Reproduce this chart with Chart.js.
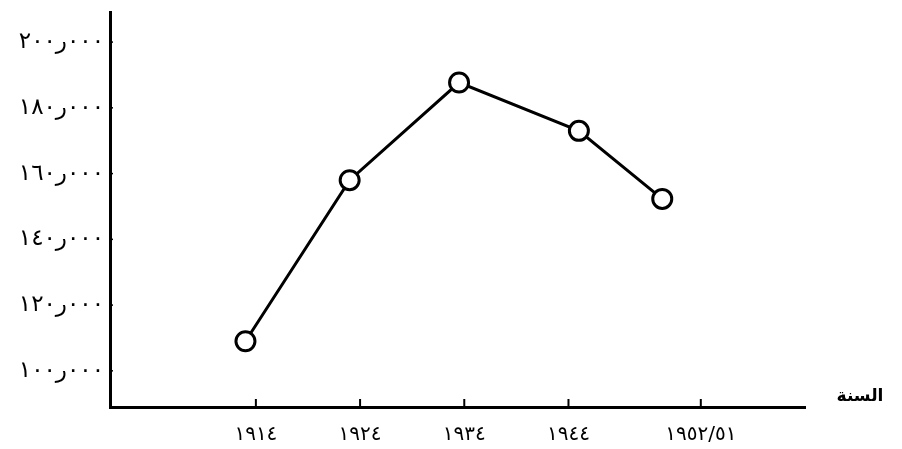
<!DOCTYPE html>
<html>
<head>
<meta charset="utf-8">
<script src="https://cdn.jsdelivr.net/npm/chart.js@4"></script>
<style>
  html, body { margin: 0; padding: 0; background: #fff; }
  #wrap { width: 902px; height: 449px; position: relative; }
</style>
</head>
<body>
<div id="wrap"><canvas id="c"></canvas></div>
<script>
// ---- data ----
const pointYears = [1913, 1923, 1933.5, 1945, 1953];
const populationValues = [109000, 158000, 187700, 173000, 152300];
const xTickPositions = [1914, 1924, 1934, 1944, 1956.7];
const xTickLabels = ['١٩١٤', '١٩٢٤', '١٩٣٤', '١٩٤٤', '١٩٥٢/٥١'];
const yTickValues = [100000, 120000, 140000, 160000, 180000, 200000];
const xAxisTitle = 'السنة';

const AR_DIGITS = '٠١٢٣٤٥٦٧٨٩';
function toArabicDigits(n) { return String(n).replace(/\d/g, d => AR_DIGITS[d]); }
function yLabel(v) {
  return toArabicDigits(Math.floor(v / 1000)) + '\u200Eر\u200E' + toArabicDigits('000');
}

const arFont = "'DejaVu Sans', sans-serif";

const decorPlugin = {
  id: 'decor',
  afterDraw(chart) {
    const ctx = chart.ctx;
    const { x, y } = chart.scales;
    const area = chart.chartArea;
    ctx.save();
    ctx.strokeStyle = '#000';
    // x tick marks (upward)
    ctx.lineWidth = 2;
    xTickPositions.forEach(v => {
      const px = x.getPixelForValue(v);
      ctx.beginPath();
      ctx.moveTo(px, area.bottom);
      ctx.lineTo(px, area.bottom - 8);
      ctx.stroke();
    });
    // y tick marks (small, inward)
    ctx.lineWidth = 1.5;
    yTickValues.forEach(v => {
      const py = y.getPixelForValue(v);
      ctx.beginPath();
      ctx.moveTo(area.left, py);
      ctx.lineTo(area.left + 3, py);
      ctx.stroke();
    });
    // axis title at right end of x axis
    ctx.fillStyle = '#000';
    ctx.font = "bold 17px " + arFont;
    ctx.textAlign = 'center';
    ctx.textBaseline = 'middle';
    ctx.fillText(xAxisTitle, area.right + 55, area.bottom - 10);
    ctx.restore();
  }
};

new Chart(document.getElementById('c'), {
  type: 'line',
  data: {
    datasets: [{
      data: pointYears.map((yr, i) => ({ x: yr, y: populationValues[i] })),
      borderColor: '#000',
      borderWidth: 3,
      tension: 0,
      pointRadius: 9.5,
      pointHoverRadius: 9.5,
      pointBackgroundColor: '#fff',
      pointBorderColor: '#000',
      pointBorderWidth: 3,
      fill: false
    }]
  },
  options: {
    responsive: true,
    maintainAspectRatio: false,
    animation: false,
    events: [],
    layout: { padding: { left: 0, right: 97, top: 7, bottom: 0 } },
    plugins: { legend: { display: false }, tooltip: { enabled: false } },
    scales: {
      x: {
        type: 'linear',
        min: 1900,
        max: 1966.7,
        afterBuildTicks(scale) { scale.ticks = xTickPositions.map(v => ({ value: v })); },
        afterFit(scale) { scale.height = 42; scale.paddingLeft = 0; scale.paddingRight = 0; },
        grid: { display: false, drawTicks: false },
        border: { display: true, color: '#000', width: 3 },
        ticks: {
          autoSkip: false,
          maxRotation: 0,
          padding: 16,
          color: '#000',
          font: { family: arFont, size: 20 },
          callback: (v, i) => xTickLabels[i]
        }
      },
      y: {
        type: 'linear',
        min: 89000,
        max: 209000,
        afterBuildTicks(scale) { scale.ticks = yTickValues.map(v => ({ value: v })); },
        afterFit(scale) { scale.width = 110; scale.paddingTop = 0; scale.paddingBottom = 0; },
        grid: { display: false, drawTicks: false },
        border: { display: true, color: '#000', width: 3 },
        ticks: {
          autoSkip: false,
          padding: 6,
          color: '#000',
          font: { family: arFont, size: 23 },
          callback: v => yLabel(v)
        }
      }
    }
  },
  plugins: [decorPlugin]
});
</script>
</body>
</html>
